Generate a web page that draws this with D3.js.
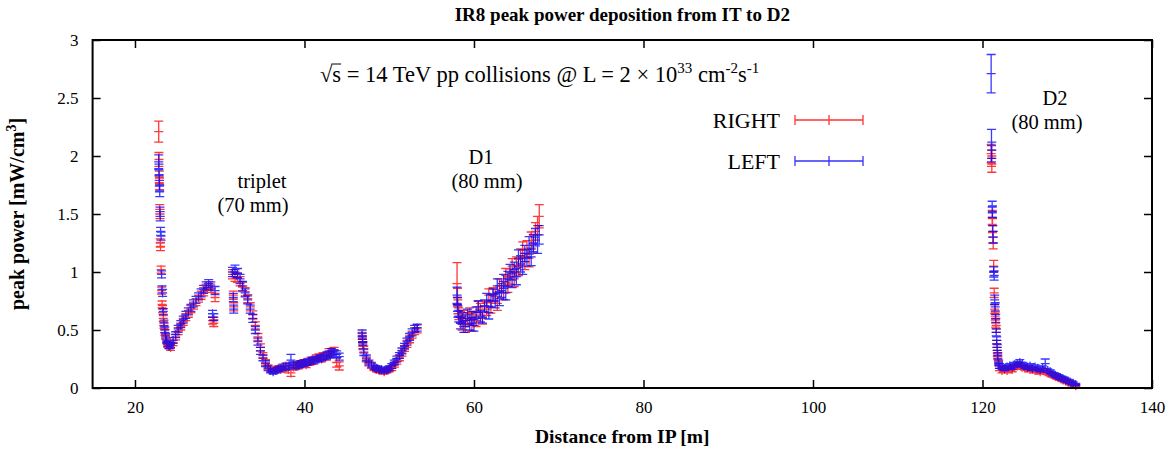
<!DOCTYPE html>
<html><head><meta charset="utf-8">
<script src="https://cdn.jsdelivr.net/npm/d3@7"></script>
<style>
body{margin:0;background:#fff;}
text{font-family:"Liberation Serif","DejaVu Serif",serif;fill:#000;}
</style></head>
<body><svg id="c" width="1170" height="449"></svg>
<script>
// ---- data ----
const xTicks = [20, 40, 60, 80, 100, 120, 140];
const yTicks = [0, 0.5, 1, 1.5, 2, 2.5, 3];
const seriesNames = ["RIGHT", "LEFT"];

const posX = [
 22.80,22.83,22.86,22.89,22.92,22.95,22.98,23.02,23.08,23.14,23.20,23.26,23.34,23.42,23.52,23.62,23.74,23.87,24.02,
 24.2,24.5,24.8,25.1,25.4,25.7,26.0,26.3,26.6,26.9,27.2,27.5,27.8,28.1,28.4,28.7,28.95,29.15,29.3,29.45,
 31.5,31.6,31.65,31.8,32.1,32.4,32.7,33.0,33.3,33.6,33.9,34.2,34.5,34.8,35.1,35.4,35.7,36.0,36.3,36.6,36.9,37.2,37.5,37.8,38.1,38.4,38.7,39.0,39.3,39.6,39.9,40.2,40.5,40.8,41.1,41.4,41.7,42.0,42.3,42.6,42.9,43.2,43.5,43.8,44.1,
 46.8,46.85,46.9,47.0,47.3,47.6,47.9,48.2,48.5,48.8,49.1,49.4,49.7,50.0,50.3,50.6,50.9,51.2,51.5,51.8,52.1,52.4,52.7,53.0,53.3,
 58.0,58.05,58.1,58.2,58.4,58.6,58.8,59.0,59.25,59.5,59.75,60.0,60.25,60.5,60.75,61.0,61.25,61.5,61.75,62.0,62.25,62.5,62.75,63.0,63.25,63.5,63.75,64.0,64.25,64.5,64.75,65.0,65.25,65.5,65.75,66.0,66.25,66.5,66.75,67.0,67.25,67.5,67.7,
 121.02,121.06,121.10,121.14,121.18,121.22,121.26,121.32,121.38,121.44,121.50,121.56,121.62,121.68,121.74,121.80,121.90,
 122.0,122.3,122.6,122.9,123.2,123.5,123.8,124.1,124.4,124.7,125.0,125.3,125.6,125.9,126.2,126.5,126.8,127.1,127.4,127.7,128.0,128.3,128.6,128.9,129.2,129.5,129.8,130.1,130.4,130.7,131.0
];

const rightY = [
 2.21,1.97,1.82,1.76,1.54,1.50,1.25,1.22,1.02,0.84,0.72,0.68,0.60,0.54,0.48,0.44,0.40,0.37,0.36,
 0.35,0.39,0.44,0.49,0.53,0.57,0.61,0.64,0.68,0.71,0.74,0.77,0.80,0.83,0.86,0.88,0.86,0.58,0.56,0.78,
 0.98,0.80,0.70,0.96,0.95,0.92,0.87,0.83,0.77,0.70,0.63,0.54,0.44,0.35,0.28,0.22,0.18,0.16,0.15,0.16,0.17,0.16,0.17,0.19,0.16,0.13,0.18,0.20,0.19,0.21,0.22,0.20,0.22,0.24,0.23,0.26,0.27,0.25,0.28,0.27,0.31,0.29,0.32,0.22,0.19,
 0.45,0.40,0.36,0.33,0.25,0.21,0.19,0.17,0.16,0.15,0.15,0.14,0.15,0.16,0.17,0.20,0.23,0.26,0.30,0.34,0.38,0.42,0.46,0.49,0.51,
 0.90,0.78,0.70,0.64,0.61,0.55,0.62,0.53,0.60,0.64,0.54,0.61,0.58,0.70,0.68,0.60,0.70,0.68,0.80,0.70,0.81,0.79,0.73,0.88,0.88,0.82,0.97,0.89,0.96,1.05,0.94,1.06,1.04,1.13,1.19,1.09,1.20,1.12,1.27,1.24,1.35,1.40,1.48,
 2.02,1.98,1.93,1.47,1.40,1.30,1.25,1.05,0.82,0.68,0.62,0.56,0.51,0.38,0.30,0.27,0.21,
 0.17,0.15,0.16,0.15,0.17,0.16,0.18,0.19,0.20,0.18,0.17,0.17,0.16,0.16,0.15,0.15,0.14,0.15,0.14,0.13,0.12,0.11,0.10,0.09,0.08,0.07,0.06,0.05,0.04,0.03,0.02
];
const rightErr = [
 0.09,0.06,0.05,0.05,0.04,0.04,0.035,0.035,0.03,0.03,0.03,0.03,0.025,0.025,0.025,0.02,0.02,0.02,0.02,
 0.025,0.025,0.025,0.03,0.03,0.03,0.03,0.03,0.03,0.03,0.03,0.03,0.035,0.035,0.035,0.035,0.035,0.03,0.03,0.035,
 0.04,0.035,0.035,0.04,0.04,0.04,0.04,0.035,0.035,0.035,0.035,0.03,0.03,0.03,0.025,0.025,0.02,0.02,0.02,0.02,0.02,0.02,0.025,0.025,0.03,0.03,0.025,0.025,0.025,0.025,0.025,0.025,0.025,0.025,0.025,0.025,0.025,0.025,0.025,0.03,0.03,0.03,0.03,0.04,0.035,
 0.03,0.03,0.03,0.03,0.025,0.02,0.02,0.02,0.02,0.02,0.02,0.02,0.02,0.02,0.02,0.02,0.025,0.025,0.025,0.025,0.03,0.03,0.03,0.03,0.035,
 0.18,0.08,0.06,0.05,0.05,0.05,0.05,0.05,0.05,0.05,0.05,0.05,0.05,0.05,0.05,0.05,0.05,0.055,0.055,0.055,0.055,0.06,0.06,0.06,0.06,0.06,0.06,0.065,0.065,0.065,0.065,0.07,0.07,0.07,0.07,0.07,0.07,0.075,0.075,0.075,0.075,0.08,0.1,
 0.08,0.07,0.07,0.06,0.06,0.05,0.05,0.05,0.04,0.04,0.035,0.035,0.03,0.03,0.025,0.025,0.02,
 0.02,0.02,0.02,0.02,0.02,0.02,0.02,0.02,0.02,0.02,0.02,0.02,0.02,0.02,0.02,0.02,0.02,0.02,0.02,0.015,0.015,0.015,0.015,0.015,0.015,0.015,0.015,0.012,0.012,0.012,0.01
];

const leftY = [
 1.95,1.88,1.79,1.74,1.70,1.52,1.48,1.35,1.31,0.98,0.85,0.82,0.66,0.56,0.50,0.45,0.41,0.38,0.36,
 0.37,0.41,0.46,0.51,0.55,0.59,0.63,0.66,0.69,0.73,0.76,0.79,0.82,0.85,0.88,0.90,0.88,0.64,0.61,0.84,
 1.00,0.78,0.68,1.02,0.99,0.94,0.88,0.82,0.76,0.68,0.60,0.50,0.40,0.32,0.26,0.21,0.17,0.15,0.14,0.15,0.16,0.17,0.18,0.18,0.19,0.24,0.20,0.19,0.20,0.21,0.21,0.22,0.23,0.23,0.24,0.25,0.25,0.26,0.27,0.28,0.29,0.31,0.30,0.29,0.27,
 0.47,0.42,0.37,0.31,0.26,0.22,0.20,0.18,0.17,0.16,0.16,0.15,0.16,0.17,0.19,0.22,0.25,0.28,0.32,0.36,0.40,0.44,0.48,0.51,0.52,
 0.80,0.72,0.66,0.62,0.56,0.60,0.53,0.58,0.63,0.55,0.61,0.54,0.65,0.70,0.62,0.61,0.71,0.76,0.65,0.75,0.80,0.75,0.88,0.77,0.84,0.92,0.82,0.94,1.00,0.93,1.02,0.96,1.12,1.07,1.05,1.16,1.12,1.23,1.13,1.25,1.30,1.24,1.32,
 2.71,2.09,2.05,1.56,1.52,1.35,1.30,1.00,0.97,0.76,0.70,0.60,0.48,0.41,0.35,0.28,0.22,
 0.19,0.18,0.17,0.18,0.19,0.18,0.20,0.21,0.22,0.20,0.19,0.18,0.19,0.17,0.18,0.17,0.16,0.17,0.21,0.15,0.14,0.12,0.11,0.10,0.09,0.08,0.07,0.06,0.05,0.04,0.03
];
const leftErr = [
 0.06,0.05,0.05,0.05,0.05,0.04,0.04,0.035,0.035,0.03,0.03,0.03,0.025,0.025,0.025,0.02,0.02,0.02,0.02,
 0.025,0.025,0.025,0.03,0.03,0.03,0.03,0.03,0.03,0.03,0.03,0.03,0.035,0.035,0.035,0.035,0.035,0.03,0.03,0.035,
 0.04,0.035,0.035,0.04,0.04,0.04,0.04,0.035,0.035,0.035,0.035,0.03,0.03,0.03,0.025,0.025,0.02,0.02,0.02,0.02,0.02,0.02,0.025,0.025,0.025,0.05,0.025,0.025,0.025,0.025,0.025,0.025,0.025,0.025,0.025,0.025,0.025,0.025,0.025,0.03,0.03,0.03,0.03,0.03,0.03,
 0.03,0.03,0.03,0.03,0.025,0.02,0.02,0.02,0.02,0.02,0.02,0.02,0.02,0.02,0.02,0.02,0.025,0.025,0.025,0.025,0.03,0.03,0.03,0.03,0.03,
 0.07,0.06,0.05,0.05,0.05,0.05,0.05,0.05,0.05,0.05,0.05,0.05,0.05,0.05,0.05,0.05,0.05,0.055,0.055,0.055,0.055,0.06,0.06,0.06,0.06,0.06,0.06,0.065,0.065,0.065,0.065,0.07,0.07,0.07,0.07,0.07,0.07,0.075,0.075,0.075,0.075,0.08,0.08,
 0.165,0.14,0.07,0.05,0.05,0.05,0.05,0.045,0.04,0.04,0.035,0.035,0.03,0.03,0.025,0.025,0.02,
 0.02,0.02,0.02,0.02,0.02,0.02,0.02,0.02,0.025,0.02,0.02,0.02,0.02,0.02,0.02,0.02,0.02,0.02,0.04,0.015,0.015,0.015,0.015,0.015,0.015,0.015,0.015,0.012,0.012,0.012,0.01
];

// ---- chart ----
const svg = d3.select("#c");
const L = 92.6, R = 1152, T = 40, B = 388;
const x = d3.scaleLinear().domain([15, 140]).range([L, R]);
const y = d3.scaleLinear().domain([0, 3]).range([B, T]);

const series = [
  {name: seriesNames[0], color: "#ff0000", ys: rightY, es: rightErr},
  {name: seriesNames[1], color: "#0000ff", ys: leftY, es: leftErr}
];
const cap = 4.5;
series.forEach(s => {
  const p = d3.path();
  posX.forEach((xv, i) => {
    const px = x(xv), py = y(s.ys[i]);
    const y1 = y(s.ys[i] + s.es[i]), y2 = y(s.ys[i] - s.es[i]);
    p.moveTo(px, y1); p.lineTo(px, y2);
    p.moveTo(px - cap, y1); p.lineTo(px + cap, y1);
    p.moveTo(px - cap, y2); p.lineTo(px + cap, y2);
    p.moveTo(px - cap, py); p.lineTo(px + cap, py);
    p.moveTo(px, py - cap); p.lineTo(px, py + cap);
  });
  svg.append("path").attr("d", p.toString()).attr("fill", "none")
    .attr("stroke", s.color).attr("stroke-width", 1.3).attr("stroke-opacity", 0.78);
});

// axes
const tick = 8;
const gx = svg.append("g").attr("transform", `translate(0,${B})`)
  .call(d3.axisBottom(x).tickValues(xTicks).tickSizeInner(-tick).tickSizeOuter(0).tickPadding(13).tickFormat(d => d));
const gy = svg.append("g").attr("transform", `translate(${L},0)`)
  .call(d3.axisLeft(y).tickValues(yTicks).tickSizeInner(-tick).tickSizeOuter(0).tickPadding(14).tickFormat(d => d));
const gt = svg.append("g").attr("transform", `translate(0,${T})`)
  .call(d3.axisTop(x).tickValues(xTicks).tickSizeInner(-tick).tickSizeOuter(0).tickFormat(""));
const gr = svg.append("g").attr("transform", `translate(${R},0)`)
  .call(d3.axisRight(y).tickValues(yTicks).tickSizeInner(-tick).tickSizeOuter(0).tickFormat(""));
[gx, gy, gt, gr].forEach(g => {
  g.select(".domain").remove();
  g.selectAll("line").attr("stroke", "#000").attr("stroke-width", 1.5);
  g.selectAll("text").attr("font-family", "Liberation Serif, serif").attr("font-size", 17).attr("fill", "#000");
});
svg.append("rect").attr("x", L).attr("y", T).attr("width", R - L).attr("height", B - T)
  .attr("fill", "none").attr("stroke", "#000").attr("stroke-width", 2);

// titles
svg.append("text").attr("x", (L + R) / 2).attr("y", 21).attr("text-anchor", "middle")
  .attr("font-weight", "bold").attr("font-size", 19).text("IR8 peak power deposition from IT to D2");
svg.append("text").attr("x", (L + R) / 2).attr("y", 443).attr("text-anchor", "middle")
  .attr("font-weight", "bold").attr("font-size", 19.5).text("Distance from IP [m]");
const yl = svg.append("text").attr("transform", `translate(24,${(T + B) / 2}) rotate(-90)`)
  .attr("text-anchor", "middle").attr("font-weight", "bold").attr("font-size", 20);
yl.append("tspan").text("peak power [mW/cm");
yl.append("tspan").attr("dy", -8).attr("font-size", 14).text("3");
yl.append("tspan").attr("dy", 8).text("]");

// annotation
const ann = svg.append("text").attr("x", 320).attr("y", 82).attr("font-size", 22.5);
ann.append("tspan").text("\u221As = 14 TeV pp collisions @ L = 2 \u00D7 10");
ann.append("tspan").attr("dy", -9).attr("font-size", 15).text("33");
ann.append("tspan").attr("dy", 9).text(" cm");
ann.append("tspan").attr("dy", -9).attr("font-size", 15).text("-2");
ann.append("tspan").attr("dy", 9).text("s");
ann.append("tspan").attr("dy", -9).attr("font-size", 15).text("-1");
// overline of the square root, measured from the rendered glyphs
const rootBox = ann.node().getExtentOfChar(0);
const sBox = ann.node().getExtentOfChar(1);
svg.append("line").attr("x1", rootBox.x + rootBox.width - 1).attr("x2", sBox.x + sBox.width)
  .attr("y1", rootBox.y + 2).attr("y2", rootBox.y + 2)
  .attr("stroke", "#000").attr("stroke-width", 1);

const labels = [
  {t: "triplet", x: 262, y: 188}, {t: "(70 mm)", x: 253, y: 212},
  {t: "D1", x: 481, y: 164}, {t: "(80 mm)", x: 487, y: 188},
  {t: "D2", x: 1055, y: 105}, {t: "(80 mm)", x: 1047, y: 129}
];
labels.forEach(l => svg.append("text").attr("x", l.x).attr("y", l.y)
  .attr("text-anchor", "middle").attr("font-size", 20.5).text(l.t));

// legend
series.forEach((s, i) => {
  const ly = 120 + i * 41;
  svg.append("text").attr("x", 780).attr("y", ly + 8).attr("text-anchor", "end")
    .attr("font-size", 22).text(s.name);
  const p = d3.path();
  p.moveTo(795, ly); p.lineTo(863, ly);
  p.moveTo(795, ly - 5); p.lineTo(795, ly + 5);
  p.moveTo(863, ly - 5); p.lineTo(863, ly + 5);
  p.moveTo(829, ly - 5); p.lineTo(829, ly + 5);
  svg.append("path").attr("d", p.toString()).attr("fill", "none")
    .attr("stroke", s.color).attr("stroke-width", 1.3).attr("stroke-opacity", 0.8);
});
</script></body></html>
